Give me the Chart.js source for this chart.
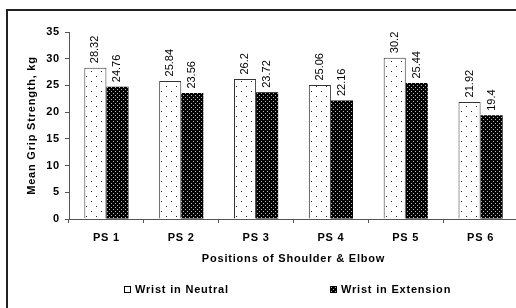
<!DOCTYPE html>
<html lang="en">
<head>
<meta charset="UTF-8">
<title>Mean Grip Strength</title>
<script src="https://cdn.jsdelivr.net/npm/chart.js"></script>
<style>
  html, body { margin: 0; padding: 0; background: #fff; overflow: hidden; }
  #wrap { position: relative; width: 516px; height: 308px; overflow: hidden; }
  #frame { position: absolute; left: 6px; top: 9px; width: 600px; height: 400px;
           border-left: 2px solid #222; border-top: 2px solid #222; }
  #chart { position: absolute; left: 0; top: 0; }
</style>
</head>
<body>
<div id="wrap">
  <div id="frame"></div>
  <canvas id="chart" width="520" height="308"></canvas>
</div>
<script>
// data
const positions = ['PS 1', 'PS 2', 'PS 3', 'PS 4', 'PS 5', 'PS 6'];
const wristNeutral = [28.32, 25.84, 26.2, 25.06, 30.2, 21.92];
const wristExtension = [24.76, 23.56, 23.72, 22.16, 25.44, 19.4];
const yTicks = [0, 5, 10, 15, 20, 25, 30, 35];

const boldFont = { family: '"Liberation Sans", Arial, sans-serif', size: 11, weight: 'bold' };

// small dotted fills like the old Excel patterns
function dotPattern(size, bg, dot, dots) {
    const c = document.createElement('canvas');
    c.width = c.height = size;
    const g = c.getContext('2d');
    g.fillStyle = bg;
    g.fillRect(0, 0, size, size);
    g.fillStyle = dot;
    dots.forEach(([x, y]) => g.fillRect(x, y, 1, 1));
    return g.createPattern(c, 'repeat');
}
const neutralFill = dotPattern(10, '#fff', '#222', [[1, 1], [6, 6]]);
const extensionFill = dotPattern(4, '#000', '#bbb', [[1, 1], [3, 3]]);

// the reference text is a bit spread out
const spacing = {
    id: 'spacing',
    beforeLayout(chart) { chart.ctx.letterSpacing = '0.8px'; },
    beforeDraw(chart) { chart.ctx.letterSpacing = '0.8px'; }
};

// rotated value labels above each bar
const barValues = {
    id: 'barValues',
    afterDatasetsDraw(chart) {
        const ctx = chart.ctx;
        ctx.save();
        ctx.letterSpacing = '0px';
        ctx.font = '11px "Liberation Sans", Arial, sans-serif';
        ctx.fillStyle = '#000';
        ctx.textAlign = 'left';
        ctx.textBaseline = 'middle';
        chart.data.datasets.forEach((ds, i) => {
            chart.getDatasetMeta(i).data.forEach((bar, j) => {
                ctx.save();
                ctx.translate(bar.x, bar.y - 4.5);
                ctx.rotate(-Math.PI / 2);
                ctx.fillText(String(ds.data[j]), 0, 0);
                ctx.restore();
            });
        });
        ctx.restore();
    }
};

// legend along the bottom
const legendX = [124, 330];
const bottomLegend = {
    id: 'bottomLegend',
    afterDraw(chart) {
        const ctx = chart.ctx;
        ctx.save();
        ctx.letterSpacing = '0.8px';
        ctx.font = 'bold 11px "Liberation Sans", Arial, sans-serif';
        ctx.textBaseline = 'middle';
        ctx.textAlign = 'left';
        chart.data.datasets.forEach((ds, i) => {
            const x = legendX[i];
            ctx.fillStyle = ds.backgroundColor;
            ctx.fillRect(x, 286, 7, 7);
            ctx.strokeStyle = '#000';
            ctx.lineWidth = 1;
            ctx.strokeRect(x + 0.5, 286.5, 6, 6);
            ctx.fillStyle = '#000';
            ctx.fillText(ds.label, x + 11, 290);
        });
        ctx.restore();
    }
};

new Chart(document.getElementById('chart'), {
    type: 'bar',
    data: {
        labels: positions,
        datasets: [{
            label: 'Wrist in Neutral',
            data: wristNeutral,
            backgroundColor: neutralFill,
            borderColor: '#333',
            borderWidth: 1
        }, {
            label: 'Wrist in Extension',
            data: wristExtension,
            backgroundColor: extensionFill,
            borderColor: '#000',
            borderWidth: 0
        }]
    },
    options: {
        responsive: false,
        animation: false,
        barPercentage: 1,
        categoryPercentage: 0.59,
        layout: { padding: { left: 0, top: 32, right: 2, bottom: 39 } },
        plugins: {
            legend: { display: false },
            tooltip: { enabled: false }
        },
        scales: {
            x: {
                grid: { offset: true, drawOnChartArea: false, tickLength: 4, color: '#555' },
                border: { color: '#555' },
                ticks: { padding: 8, color: '#000', font: boldFont },
                title: {
                    display: true,
                    text: 'Positions of Shoulder & Elbow',
                    color: '#000',
                    font: boldFont,
                    padding: { top: 0, bottom: 3.4 }
                },
                afterFit(s) { s.height = 50; }
            },
            y: {
                min: yTicks[0],
                max: yTicks[yTicks.length - 1],
                afterBuildTicks(s) { s.ticks = yTicks.map(v => ({ value: v })); },
                grid: { drawOnChartArea: false, tickLength: 4, color: '#555' },
                border: { color: '#555' },
                ticks: { padding: 5, color: '#000', font: boldFont },
                title: {
                    display: true,
                    text: 'Mean Grip Strength, kg',
                    color: '#000',
                    font: boldFont,
                    padding: { top: 25.4, bottom: 0 }
                },
                afterFit(s) { s.width = 69; }
            }
        }
    },
    plugins: [spacing, barValues, bottomLegend]
});
</script>
</body>
</html>
